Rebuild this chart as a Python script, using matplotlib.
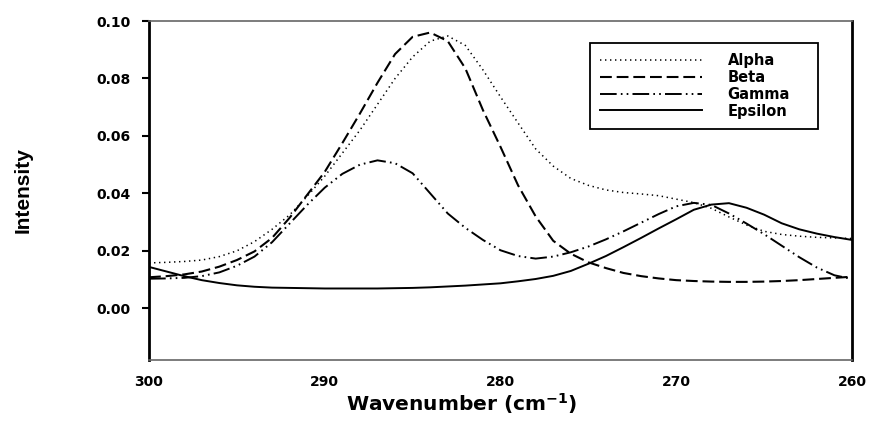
import numpy as np
import matplotlib
matplotlib.use('Agg')
import matplotlib.pyplot as plt

# wavenumber grid (cm-1) at 1 cm-1 steps
wavenumber = np.arange(300, 259, -1)

alpha = [0.0158, 0.0160, 0.0163, 0.0168, 0.0180, 0.0200, 0.0232, 0.0275, 0.0325, 0.0390,
         0.0460, 0.0540, 0.0620, 0.0710, 0.0800, 0.0875, 0.0930, 0.0948, 0.0915, 0.0830,
         0.0736, 0.0645, 0.0555, 0.0495, 0.0452, 0.0428, 0.0412, 0.0403, 0.0398, 0.0392,
         0.0380, 0.0368, 0.0348, 0.0318, 0.0290, 0.0268, 0.0257, 0.0251, 0.0247, 0.0245,
         0.0243]
beta = [0.0108, 0.0112, 0.0118, 0.0128, 0.0145, 0.0168, 0.0198, 0.0245, 0.0315, 0.0395,
        0.0475, 0.0575, 0.0678, 0.0785, 0.0885, 0.0945, 0.0960, 0.0930, 0.0835, 0.0690,
        0.0562, 0.0428, 0.0320, 0.0235, 0.0190, 0.0160, 0.0140, 0.0123, 0.0112, 0.0104,
        0.0098, 0.0095, 0.0093, 0.0092, 0.0092, 0.0093, 0.0095, 0.0098, 0.0102, 0.0106,
        0.0110]
gamma = [0.0103, 0.0104, 0.0106, 0.0112, 0.0125, 0.0148, 0.0180, 0.0230, 0.0295, 0.0360,
         0.0420, 0.0468, 0.0500, 0.0515, 0.0505, 0.0470, 0.0400, 0.0330, 0.0280, 0.0238,
         0.0202, 0.0182, 0.0173, 0.0180, 0.0195, 0.0215, 0.0240, 0.0268, 0.0298, 0.0328,
         0.0355, 0.0367, 0.0360, 0.0330, 0.0295, 0.0258, 0.0218, 0.0178, 0.0142, 0.0115,
         0.0102]
epsilon = [0.0144, 0.0128, 0.0112, 0.0098, 0.0088, 0.0080, 0.0075, 0.0072, 0.0071, 0.0070,
           0.0069, 0.0069, 0.0069, 0.0069, 0.0070, 0.0071, 0.0073, 0.0076, 0.0079, 0.0083,
           0.0087, 0.0094, 0.0102, 0.0113, 0.0130, 0.0155, 0.0182, 0.0213, 0.0245, 0.0278,
           0.0310, 0.0343, 0.0361, 0.0366, 0.0350, 0.0326, 0.0296, 0.0275, 0.0260, 0.0248,
           0.0238]

labels = ["Alpha", "Beta", "Gamma", "Epsilon"]
yticks = [0.00, 0.02, 0.04, 0.06, 0.08, 0.10]
xticks = [300, 290, 280, 270, 260]

plt.rcParams['font.family'] = 'DejaVu Sans'
plt.rcParams['lines.scale_dashes'] = False

fig = plt.figure(figsize=(8.69, 4.23), dpi=100)
ax = fig.add_axes([0.1715, 0.1489, 0.8089, 0.8014])

ax.plot(wavenumber, alpha, color='black', lw=1.1, dashes=(1.0, 2.6), label=labels[0])
ax.plot(wavenumber, beta, color='black', lw=1.5, dashes=(8.5, 3.5), label=labels[1])
ax.plot(wavenumber, gamma, color='black', lw=1.4, dashes=(12, 3, 1.2, 3, 1.2, 3), label=labels[2])
ax.plot(wavenumber, epsilon, color='black', lw=1.4, label=labels[3])

ax.set_xlim(300, 260)
ax.set_ylim(-0.018, 0.10)
ax.set_xticks(xticks)
ax.set_yticks(yticks)
ax.set_yticklabels(["%.2f" % v for v in yticks])

ax.tick_params(axis='x', length=0, pad=11, labelsize=10)
ax.tick_params(axis='y', length=5, width=1.5, pad=8, labelsize=10)
for lab in ax.get_xticklabels() + ax.get_yticklabels():
    lab.set_fontweight('bold')

for side in ['left', 'right']:
    ax.spines[side].set_linewidth(2.0)
    ax.spines[side].set_color('black')
for side in ['top', 'bottom']:
    ax.spines[side].set_linewidth(1.2)
    ax.spines[side].set_color('#666666')

ax.set_xlabel(r'Wavenumber (cm$^{\mathbf{-1}}$)', fontsize=14.5, fontweight='bold', va='top')
ax.xaxis.set_label_coords(0.444, -0.092)
ax.set_ylabel('Intensity', fontsize=15, fontweight='bold',
              family=['Liberation Sans Narrow', 'Liberation Sans', 'DejaVu Sans'])
ax.yaxis.set_label_coords(-0.165, 0.5)

leg = ax.legend(loc='upper left', bbox_to_anchor=(0.627, 0.687, 0.325, 0.248), mode='expand',
                frameon=True, fancybox=False, framealpha=1, edgecolor='black',
                borderaxespad=0, handlelength=7.0, handletextpad=1.75, labelspacing=0.12,
                borderpad=0.7, prop={'size': 10.5, 'weight': 'bold'})
leg.get_frame().set_linewidth(1.3)

plt.savefig("out.png", dpi=100)
